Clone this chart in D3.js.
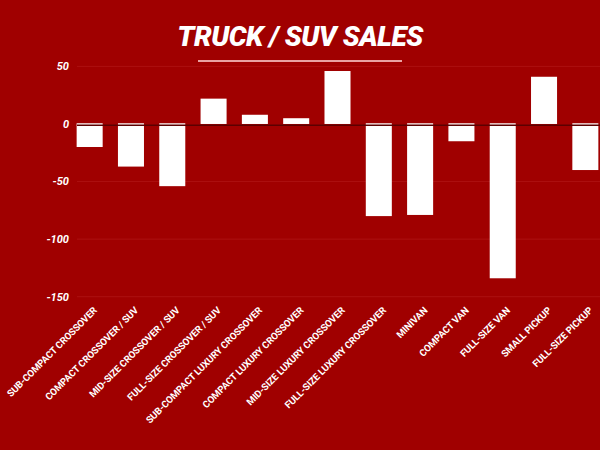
<!DOCTYPE html>
<html><head><meta charset="utf-8">
<script src="https://cdn.jsdelivr.net/npm/d3@7"></script>
<style>html,body{margin:0;padding:0;background:#a00000;}svg{display:block;}</style>
</head><body>
<svg id="chart" width="600" height="450"></svg>
<script>
const categories = ["SUB-COMPACT CROSSOVER","COMPACT CROSSOVER / SUV","MID-SIZE CROSSOVER / SUV","FULL-SIZE CROSSOVER / SUV","SUB-COMPACT LUXURY CROSSOVER","COMPACT LUXURY CROSSOVER","MID-SIZE LUXURY CROSSOVER","FULL-SIZE LUXURY CROSSOVER","MINIVAN","COMPACT VAN","FULL-SIZE VAN","SMALL PICKUP","FULL-SIZE PICKUP"];
const values = [-20,-37,-54,22,8,5,46,-80,-79,-15,-134,41,-40];
const yTicks = [50,0,-50,-100,-150];
const title = "TRUCK / SUV SALES";

const svg = d3.select("#chart");
svg.append("rect").attr("width",600).attr("height",450).attr("fill","#a00000");

const x = d3.scaleBand().domain(categories).range([69,606]).paddingInner(0.37).paddingOuter(0.185);
const y = d3.scaleLinear().domain([-150,50]).range([296.7,66.4]);

// title
svg.append("text").attr("x",300).attr("y",46).attr("text-anchor","middle")
  .attr("fill","#fff").attr("font-family","Roboto, 'Open Sans', sans-serif")
  .attr("font-weight",900).attr("font-style","italic").attr("font-size",28)
  .attr("letter-spacing","-0.5").text(title);
svg.append("line").attr("x1",198).attr("x2",402).attr("y1",61).attr("y2",61)
  .attr("stroke","#e9a3a3").attr("stroke-width",2);

// grid
svg.append("g").selectAll("line").data(yTicks.filter(d=>d!==0)).join("line")
  .attr("x1",77).attr("x2",600).attr("y1",d=>y(d)).attr("y2",d=>y(d))
  .attr("stroke","#ac1010").attr("stroke-width",1);

// y tick labels
svg.append("g").selectAll("text").data(yTicks).join("text")
  .attr("x",69).attr("y",d=>y(d)).attr("dy","0.35em").attr("text-anchor","end")
  .attr("fill","#fff").attr("font-family","Roboto, sans-serif")
  .attr("font-weight",700).attr("font-style","italic").attr("font-size",11)
  .text(d=>d);

// bars
svg.append("g").selectAll("rect").data(values).join("rect")
  .attr("x",(d,i)=>x(categories[i]))
  .attr("width",x.bandwidth())
  .attr("y",d=>d>=0?y(d):y(0)-0.7)
  .attr("height",d=>Math.abs(y(d)-y(0))+(d<0?0.7:0))
  .attr("fill","#fff");

// zero line
svg.append("line").attr("x1",77).attr("x2",600).attr("y1",y(0)+1.2).attr("y2",y(0)+1.2)
  .attr("stroke","#5c0000").attr("stroke-width",1.6);

// x labels
svg.append("g").selectAll("text").data(categories).join("text")
  .attr("transform",d=>`translate(${x(d)+x.bandwidth()/2+8},311) rotate(-45)`)
  .attr("text-anchor","end")
  .attr("fill","#fff").attr("font-family","Roboto, sans-serif")
  .attr("font-weight",700).attr("font-size",9.6)
  .attr("letter-spacing","-0.1")
  .text(d=>d);
</script>
</body></html>
